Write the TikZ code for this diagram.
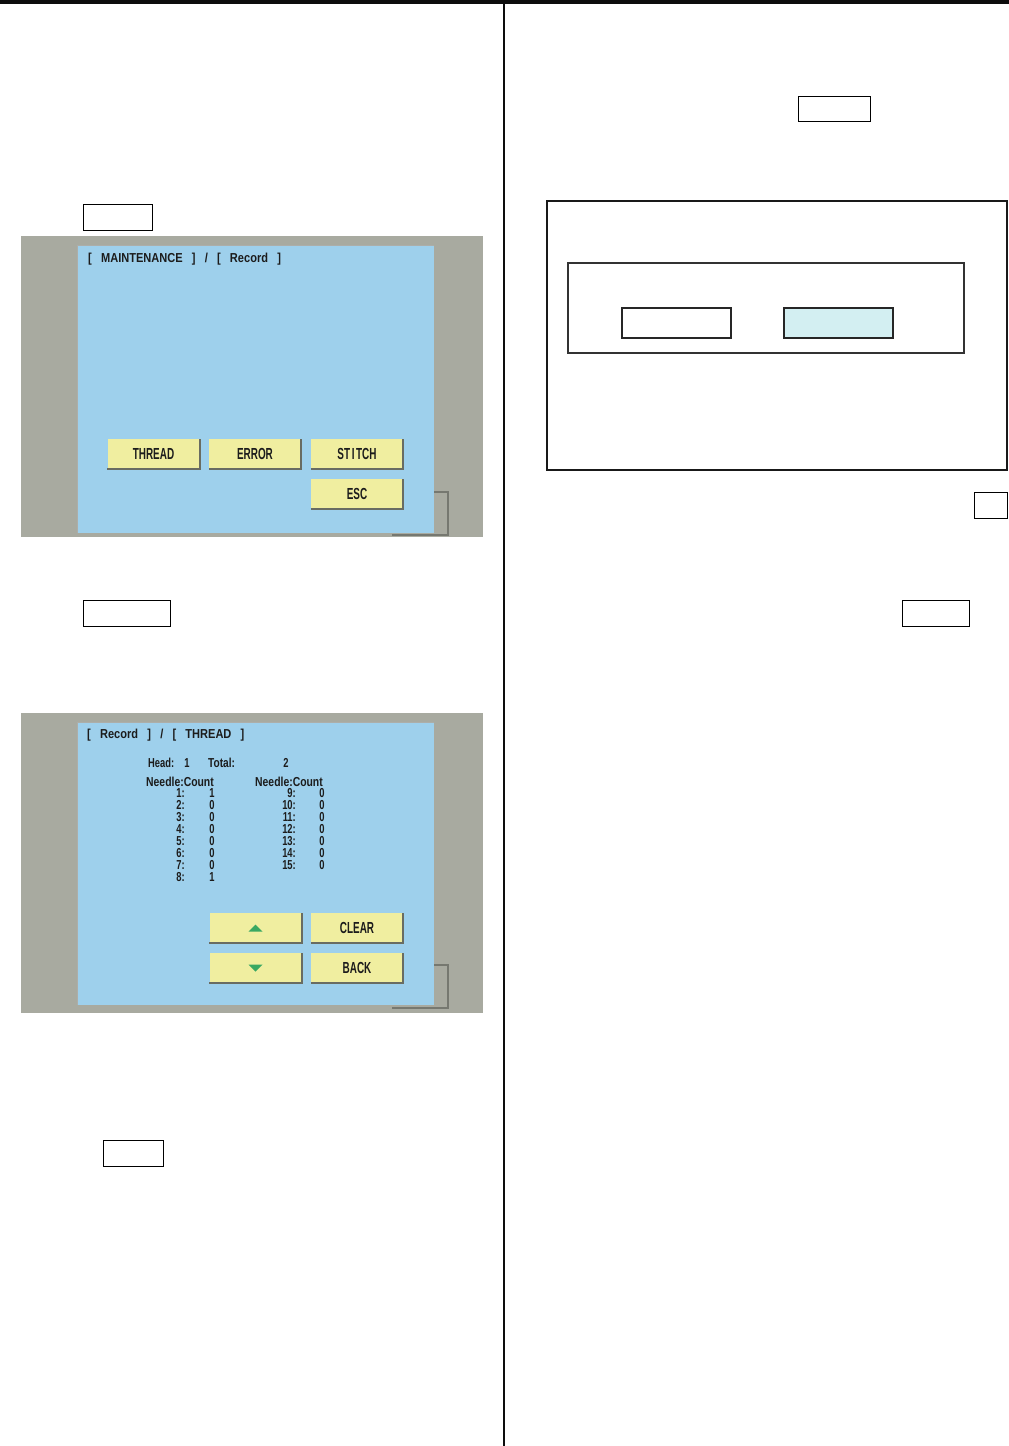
\documentclass[tikz,border=0pt]{standalone}
\usepackage{fontspec}
\usepackage{graphicx}
\newfontfamily\lcdfont{Liberation Sans}

\definecolor{screengray}{RGB}{168,170,160}
\definecolor{panelblue}{RGB}{158,208,236}
\definecolor{btnyellow}{RGB}{240,238,160}
\definecolor{btnshade}{RGB}{105,108,98}
\definecolor{framegray}{RGB}{118,120,112}
\definecolor{arrowgreen}{RGB}{58,168,98}
\definecolor{lcdtext}{RGB}{28,28,28}
\definecolor{dlgcyan}{RGB}{211,239,242}

\newcommand{\lcd}[2][0.85]{\scalebox{#1}[1]{#2}}

\begin{document}
\begin{tikzpicture}[x=1pt,y=-1pt,
    keybox/.style={draw, line width=1.3pt, inner sep=0pt, anchor=north west},
    btn/.style={fill=btnyellow, minimum width=92pt, minimum height=30pt, inner sep=0pt,
        font=\lcdfont\fontsize{16}{16}\selectfont\bfseries, text=lcdtext},
    lcd/.style={inner sep=0pt, font=\lcdfont\fontsize{13}{13}\selectfont\bfseries, text=lcdtext},
    shade/.style={draw=btnshade, line width=1.6pt}]
    \useasboundingbox (0,0) rectangle (1009,1446);

    % page rules
    \fill [black!95] (0,0) rectangle (1009,4);
    \draw [black!95, line width=2pt] (504,0) -- (504,1446);

    % key boxes in the text
    \node [keybox, minimum width=69pt, minimum height=26pt] (keyrecord) at (83,204) {};
    \node [keybox, minimum width=87pt, minimum height=26pt] (keythread) at (83,600) {};
    \node [keybox, minimum width=60pt, minimum height=26pt] (keyclear) at (103,1140) {};
    \node [keybox, minimum width=72pt, minimum height=25pt] (keyright) at (798,96) {};
    \node [keybox, minimum width=33pt, minimum height=26pt] (keysmall) at (974,492) {};
    \node [keybox, minimum width=67pt, minimum height=26pt] (keyback) at (902,600) {};

    % screen 1
    \fill [screengray] (21,236) rectangle (483,537);
    \fill [panelblue] (77,245) rectangle (434,533);
    \draw [framegray!60, line width=0.8pt] (77,533) -- (77,245) -- (434,245);
    \draw [framegray, line width=1.5pt] (392,535) -- (448,535) -- (448,492) -- (434,492);
    \node [lcd, anchor=west] (titlea) at (88,259) {\lcd{[~~~MAINTENANCE~~~]~~~/~~~[~~~Record~~~]}};
    \node [btn] (thread) at (153.5,454) {\lcd[0.62]{THREAD}};
    \node [btn] (error) at (255,454) {\lcd[0.62]{ERROR}};
    \node [btn] (stitch) at (357,454) {\lcd[0.62]{ST\,I\,TCH}};
    \node [btn] (esc) at (357,494) {\lcd[0.62]{ESC}};

    % screen 2
    \fill [screengray] (21,713) rectangle (483,1013);
    \fill [panelblue] (77,722) rectangle (434,1005);
    \draw [framegray!60, line width=0.8pt] (77,1005) -- (77,722) -- (434,722);
    \draw [framegray, line width=1.5pt] (392,1008) -- (448,1008) -- (448,965) -- (434,965);
    \node [lcd, anchor=west] (titleb) at (87,735) {\lcd{[~~~Record~~~]~~~/~~~[~~~THREAD~~~]}};
    \node [lcd, anchor=west] (head) at (148,763) {\lcd[0.72]{Head:}};
    \node [lcd] (headno) at (187,763) {\lcd[0.72]{1}};
    \node [lcd, anchor=west] (total) at (208,763) {\lcd[0.78]{Total:}};
    \node [lcd] (totalno) at (286,763) {\lcd[0.72]{2}};
    \node [lcd, anchor=west] (needlea) at (146,782) {\lcd[0.8]{Needle:Count}};
    \node [lcd, anchor=west] (needleb) at (255,782) {\lcd[0.8]{Needle:Count}};
    \foreach \n/\c [count=\i] in {1/1,2/0,3/0,4/0,5/0,6/0,7/0,8/1} {
        \node [lcd, anchor=east] (nla\i) at (185,781+12*\i) {\lcd[0.72]{\n:}};
        \node [lcd] (cta\i) at (212,781+12*\i) {\lcd[0.72]{\c}};
    }
    \foreach \n/\c [count=\i] in {9/0,10/0,11/0,12/0,13/0,14/0,15/0} {
        \node [lcd, anchor=east] (nlb\i) at (296,781+12*\i) {\lcd[0.72]{\n:}};
        \node [lcd] (ctb\i) at (322,781+12*\i) {\lcd[0.72]{\c}};
    }
    \node [btn] (up) at (255.5,928) {};
    \node [btn] (clear) at (357,928) {\lcd[0.62]{CLEAR}};
    \node [btn] (down) at (255.5,968) {};
    \node [btn] (back) at (357,968) {\lcd[0.62]{BACK}};
    \fill [arrowgreen] (up.center) ++(-7,3.5) -- ++(14,0) -- ++(-7,-7) -- cycle;
    \fill [arrowgreen] (down.center) ++(-7,-3.5) -- ++(14,0) -- ++(-7,7) -- cycle;

    % shaded edge of the keys
    \foreach \b in {thread,error,stitch,esc,up,clear,down,back}
        \draw [shade] (\b.south west) -- (\b.south east) -- (\b.north east);

    % dialog on the right
    \node [draw=black!90, line width=2pt, inner sep=0pt, anchor=north west,
        minimum width=460pt, minimum height=269pt] (dialog) at (546,200) {};
    \node [draw=black!80, line width=2pt, inner sep=0pt, anchor=north west,
        minimum width=396pt, minimum height=90pt] (dlgframe) at (567,262) {};
    \node [draw=black!85, line width=1.6pt, inner sep=0pt, anchor=north west,
        minimum width=109pt, minimum height=30pt] (dlgno) at (621,307) {};
    \node [draw=black!85, fill=dlgcyan, line width=1.6pt, inner sep=0pt, anchor=north west,
        minimum width=109pt, minimum height=30pt] (dlgyes) at (783,307) {};
\end{tikzpicture}
\end{document}
